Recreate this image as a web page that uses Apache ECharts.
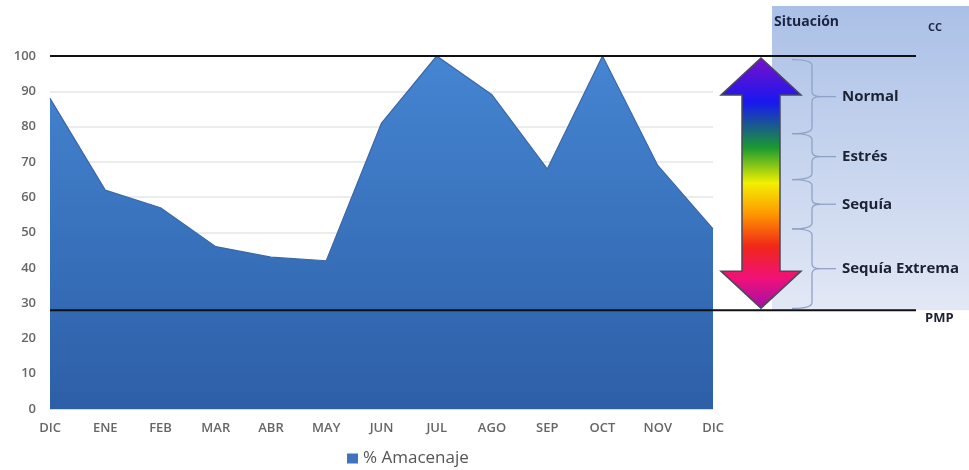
<!DOCTYPE html>
<html>
	<head>
		<meta charset="utf-8" />
		<script src="https://cdn.jsdelivr.net/npm/echarts@6/dist/echarts.min.js"></script>
		<title>Amacenaje</title>
		<style>
			* { margin: 0; padding: 0; }
			body { background: #fff; }
			#chart { width: 969px; height: 470px; }
		</style>
	</head>
	<body>
		<div id="chart"></div>
		<script>
			// datos
			var meses = ['DIC', 'ENE', 'FEB', 'MAR', 'ABR', 'MAY', 'JUN', 'JUL', 'AGO', 'SEP', 'OCT', 'NOV', 'DIC'];
			var amacenaje = [88, 62, 57, 46, 43, 42, 81, 100, 89, 68, 100, 69, 51];
			var yTicks = [0, 10, 20, 30, 40, 50, 60, 70, 80, 90, 100];
			var nivelCC = 100;
			var nivelPMP = 28;
			// limites de cada situacion (de arriba a abajo)
			var limites = [99, 78, 65, 51, 28.5];
			var situaciones = ['Normal', 'Estrés', 'Sequía', 'Sequía Extrema'];

			var chart = echarts.init(document.getElementById('chart'));
			var font = "'Open Sans', sans-serif";

			chart.setOption({
				animation: false,
				grid: { left: 50, right: 256, top: 56, bottom: 61 },
				legend: {
					data: ['% Amacenaje'],
					left: 347, top: 450, padding: 0,
					icon: 'rect', itemWidth: 11, itemHeight: 10, itemGap: 5,
					textStyle: { color: '#555', fontSize: 17, fontFamily: font }
				},
				xAxis: {
					type: 'category',
					data: meses,
					boundaryGap: false,
					axisLine: { lineStyle: { color: '#d8d8d8' } },
					axisTick: { show: false },
					axisLabel: { color: '#666', fontSize: 13, fontWeight: 600, fontFamily: font, margin: 13 }
				},
				yAxis: {
					type: 'value',
					min: yTicks[0], max: yTicks[yTicks.length - 1], interval: 10,
					axisLine: { show: false },
					axisTick: { show: false },
					axisLabel: { color: '#666', fontSize: 13, fontWeight: 600, fontFamily: font, margin: 14 },
					splitLine: { lineStyle: { color: '#e6e6e6', width: 1.5 } }
				},
				series: [{
					name: '% Amacenaje',
					type: 'line',
					data: amacenaje,
					symbol: 'none',
					lineStyle: { color: '#3b68a6', width: 1.2 },
					itemStyle: { color: '#3f73bd' },
					areaStyle: {
						opacity: 1,
						color: new echarts.graphic.LinearGradient(0, 0, 0, 1, [
							{ offset: 0, color: '#4585d2' },
							{ offset: 1, color: '#2d5fa7' }
						])
					}
				}]
			});

			function dibujarExtras() {
				var yCC = chart.convertToPixel({ yAxisIndex: 0 }, nivelCC);
				var yPMP = chart.convertToPixel({ yAxisIndex: 0 }, nivelPMP);
				var xIni = chart.convertToPixel({ xAxisIndex: 0 }, 0);
				var els = [];
				var braceStyle = { fill: null, stroke: '#8ea2c6', lineWidth: 1.3 };

				// panel de situacion
				els.push({
					type: 'rect', z: 1,
					shape: { x: 772, y: 6, width: 197, height: yPMP - 6 },
					style: {
						fill: new echarts.graphic.LinearGradient(0, 0, 0, 1, [
							{ offset: 0, color: '#abc0e7' },
							{ offset: 1, color: '#e2e8f5' }
						])
					}
				});

				// lineas CC y PMP
				[yCC, yPMP].forEach(function (y) {
					els.push({
						type: 'line', z: 10,
						shape: { x1: xIni, y1: y, x2: 916, y2: y },
						style: { stroke: '#111', lineWidth: 2 }
					});
				});

				// flecha doble con degradado
				var cx = 761, hw = 40, sw = 19;
				var yTop = yCC + 2, yBot = yPMP - 2, hh = 37;
				els.push({
					type: 'polygon', z: 8,
					shape: {
						points: [
							[cx, yTop], [cx + hw, yTop + hh], [cx + sw, yTop + hh],
							[cx + sw, yBot - hh], [cx + hw, yBot - hh], [cx, yBot],
							[cx - hw, yBot - hh], [cx - sw, yBot - hh], [cx - sw, yTop + hh],
							[cx - hw, yTop + hh]
						]
					},
					style: {
						stroke: '#4a4a5a', lineWidth: 1.5,
						fill: new echarts.graphic.LinearGradient(0, 0, 0, 1, [
							{ offset: 0, color: '#7a10c8' },
							{ offset: 0.18, color: '#1818f0' },
							{ offset: 0.36, color: '#1a9a30' },
							{ offset: 0.5, color: '#f2f000' },
							{ offset: 0.62, color: '#ff9a00' },
							{ offset: 0.75, color: '#f02818' },
							{ offset: 0.88, color: '#f0107a' },
							{ offset: 1, color: '#a010a8' }
						])
					}
				});

				// llaves y etiquetas
				function curva(x1, y1, x2, y2, cx1, cy1) {
					els.push({
						type: 'bezierCurve', z: 9,
						shape: { x1: x1, y1: y1, x2: x2, y2: y2, cpx1: cx1, cpy1: cy1 },
						style: braceStyle
					});
				}
				function recta(x1, y1, x2, y2) {
					els.push({
						type: 'line', z: 9,
						shape: { x1: x1, y1: y1, x2: x2, y2: y2 },
						style: braceStyle
					});
				}
				for (var i = 0; i < situaciones.length; i++) {
					var y1 = chart.convertToPixel({ yAxisIndex: 0 }, limites[i]);
					var y2 = chart.convertToPixel({ yAxisIndex: 0 }, limites[i + 1]);
					var ym = (y1 + y2) / 2;
					var x0 = 792, xv = 812, xt = 820;
					curva(x0, y1, xv, y1 + 6, xv, y1);
					recta(xv, y1 + 6, xv, ym - 5);
					curva(xv, ym - 5, xt, ym, xv, ym);
					curva(xt, ym, xv, ym + 5, xv, ym);
					recta(xv, ym + 5, xv, y2 - 6);
					curva(xv, y2 - 6, x0, y2, xv, y2);
					recta(xt, ym, xt + 16, ym);
					els.push({
						type: 'text', z: 11,
						x: xt + 22, y: ym,
						style: {
							text: situaciones[i], fill: '#1c2233', fontSize: 15, fontWeight: 'bold',
							fontFamily: font, verticalAlign: 'middle'
						}
					});
				}

				els.push({
					type: 'text', z: 11, x: 774, y: 22,
					style: { text: 'Situación', fill: '#1c2540', fontSize: 14, fontWeight: 'bold', fontFamily: font, verticalAlign: 'middle' }
				});
				els.push({
					type: 'text', z: 11, x: 928, y: 28,
					style: { text: 'CC', fill: '#1c2540', fontSize: 11, fontWeight: 'bold', fontFamily: font, verticalAlign: 'middle' }
				});
				els.push({
					type: 'text', z: 11, x: 925, y: yPMP + 8,
					style: { text: 'PMP', fill: '#1c2233', fontSize: 13, fontWeight: 'bold', fontFamily: font, verticalAlign: 'middle' }
				});

				chart.setOption({ graphic: els });
			}
			dibujarExtras();
		</script>
	</body>
</html>
